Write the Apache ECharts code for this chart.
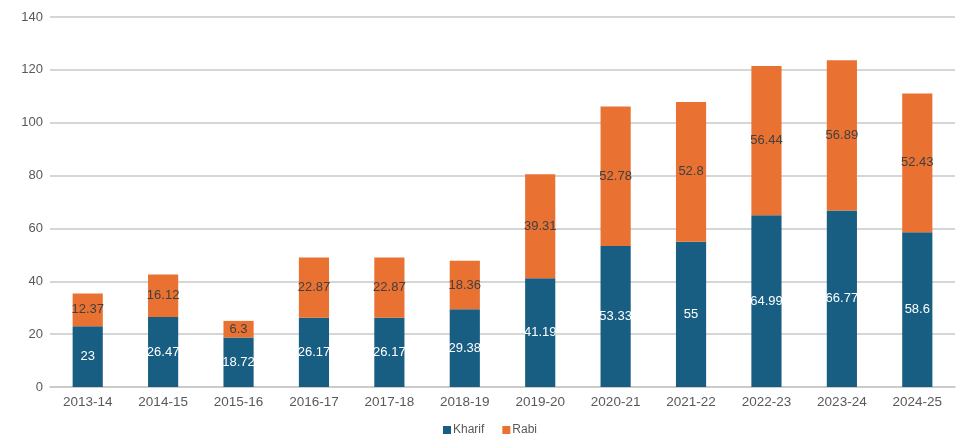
<!DOCTYPE html>
<html>
<head>
<meta charset="utf-8">
<script src="https://cdn.jsdelivr.net/npm/echarts@6/dist/echarts.min.js"></script>
<style>html,body{margin:0;padding:0;background:#fff;}#c{width:980px;height:445px;}</style>
</head>
<body>
<div id="c"></div>
<script>
const categories = ['2013-14','2014-15','2015-16','2016-17','2017-18','2018-19','2019-20','2020-21','2021-22','2022-23','2023-24','2024-25'];
const kharif = [23, 26.47, 18.72, 26.17, 26.17, 29.38, 41.19, 53.33, 55, 64.99, 66.77, 58.6];
const rabi = [12.37, 16.12, 6.3, 22.87, 22.87, 18.36, 39.31, 52.78, 52.8, 56.44, 56.89, 52.43];
const yTicks = { min: 0, max: 140, interval: 20 };

const chart = echarts.init(document.getElementById('c'), null, {renderer: 'canvas'});
const font = 'Liberation Sans, Arial, sans-serif';
chart.setOption({
  animation: false,
  textStyle: { fontFamily: font },
  grid: { left: 50, right: 25, top: 17, bottom: 58, containLabel: false },
  legend: {
    bottom: 4, left: 'center', itemWidth: 8, itemHeight: 8, itemGap: 18,
    icon: 'rect',
    textStyle: { color: '#595959', fontSize: 12, fontFamily: font, padding: [0,0,0,-3] },
    data: ['Kharif', 'Rabi']
  },
  xAxis: {
    type: 'category', data: categories,
    axisLine: { lineStyle: { color: '#c8c8c8', width: 1.5 } },
    axisTick: { show: false },
    axisLabel: { color: '#595959', fontSize: 13.5, margin: 8, fontFamily: font }
  },
  yAxis: {
    type: 'value', min: yTicks.min, max: yTicks.max, interval: yTicks.interval,
    axisLine: { show: false }, axisTick: { show: false },
    axisLabel: { color: '#595959', fontSize: 13, margin: 7, fontFamily: font },
    splitLine: { lineStyle: { color: '#c8c8c8', width: 1.5 } }
  },
  series: [
    {
      name: 'Kharif', type: 'bar', stack: 'a', data: kharif, barWidth: '40%',
      itemStyle: { color: '#175e82' },
      label: { show: true, position: 'inside', color: '#ffffff', fontSize: 13, fontFamily: font }
    },
    {
      name: 'Rabi', type: 'bar', stack: 'a', data: rabi, barWidth: '40%',
      itemStyle: { color: '#e97132' },
      label: { show: true, position: 'inside', color: '#404040', fontSize: 13, fontFamily: font }
    }
  ]
});
</script>
</body>
</html>
